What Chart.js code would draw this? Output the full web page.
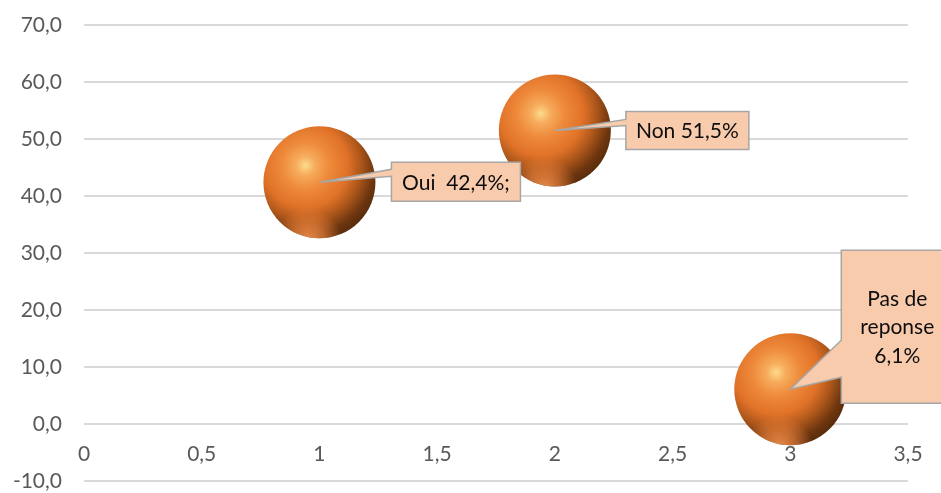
<!DOCTYPE html>
<html>
<head>
<meta charset="utf-8">
<script src="https://cdn.jsdelivr.net/npm/chart.js@4.4.1/dist/chart.umd.min.js"></script>
<style>
    body { margin: 0; background: #fff; }
</style>
</head>
<body>
<canvas id="graphique" width="941" height="493"></canvas>
<script>
// donnees du graphique
const categories = ['Oui', 'Non', 'Pas de reponse'];
const positionsX = [1, 2, 3];
const pourcentages = [42.4, 51.5, 6.1];
const etiquettes = [['Oui  42,4%;'], ['Non 51,5%'], ['Pas de', 'reponse', '6,1%']];
const ticksY = [-10, 0, 10, 20, 30, 40, 50, 60, 70];
const ticksX = [0, 0.5, 1, 1.5, 2, 2.5, 3, 3.5];

// styles
const RAYON = 56;
const POLICE = 'Lato, "Open Sans", sans-serif';
// position des bulles d'etiquette par rapport au point (en pixels)
const bulles = [
    { dx: 72, dy: -20, w: 129, h: 39, b1: 7, b2: 14 },
    { dx: 71, dy: -19, w: 123, h: 38, b1: 8, b2: 14 },
    { dx: 51, dy: -139, w: 112, h: 153, b1: 90, b2: 127 },
];

const virgule = (v, dec) => (dec ? v.toFixed(dec) : String(v)).replace('.', ',');

// degrade "sphere" pour chaque bulle
function degradeSphere(context) {
    if (context.type !== 'data') return '#ED7D31';
    const chart = context.chart;
    const cx = chart.scales.x.getPixelForValue(context.raw.x);
    const cy = chart.scales.y.getPixelForValue(context.raw.y);
    if (!isFinite(cx) || !isFinite(cy)) return '#ED7D31';
    const r = RAYON;
    const g = chart.ctx.createRadialGradient(cx - 0.25 * r, cy - 0.3 * r, 0, cx - 0.25 * r, cy - 0.3 * r, 1.45 * r);
    g.addColorStop(0, '#FDDA8C');
    g.addColorStop(0.12, '#F6AC5C');
    g.addColorStop(0.3, '#EE893A');
    g.addColorStop(0.52, '#E07228');
    g.addColorStop(0.68, '#AE571B');
    g.addColorStop(0.85, '#6E360F');
    g.addColorStop(1, '#50280A');
    return g;
}

const pluginEtiquettes = {
    id: 'etiquettes',
    afterDatasetsDraw(chart) {
        const ctx = chart.ctx;
        const meta = chart.getDatasetMeta(0);
        // reflet en bas des spheres
        meta.data.forEach((el) => {
            const r = RAYON;
            ctx.save();
            ctx.beginPath();
            ctx.arc(el.x, el.y, r, 0, Math.PI * 2);
            ctx.clip();
            const g = ctx.createRadialGradient(el.x - 0.2 * r, el.y + 1.05 * r, 0, el.x - 0.2 * r, el.y + 1.05 * r, 0.6 * r);
            g.addColorStop(0, 'rgba(246,150,80,0.95)');
            g.addColorStop(0.5, 'rgba(240,135,65,0.6)');
            g.addColorStop(1, 'rgba(240,135,65,0)');
            ctx.fillStyle = g;
            ctx.fillRect(el.x - r, el.y, 2 * r, r);
            ctx.restore();
        });
        // bulles d'etiquette
        meta.data.forEach((el, i) => {
            const b = bulles[i];
            const L = el.x + b.dx, T = el.y + b.dy, R = L + b.w, B = T + b.h;
            ctx.save();
            ctx.beginPath();
            ctx.moveTo(L, T);
            ctx.lineTo(R, T);
            ctx.lineTo(R, B);
            ctx.lineTo(L, B);
            ctx.lineTo(L, T + b.b2);
            ctx.lineTo(el.x, el.y);
            ctx.lineTo(L, T + b.b1);
            ctx.closePath();
            ctx.fillStyle = '#F8CBAD';
            ctx.fill();
            ctx.lineWidth = 1.5;
            ctx.strokeStyle = '#A6A6A6';
            ctx.stroke();
            ctx.fillStyle = '#0D0D0D';
            ctx.font = '21px ' + POLICE;
            ctx.textAlign = 'center';
            ctx.textBaseline = 'middle';
            const lignes = etiquettes[i];
            const lh = 28.5;
            const y0 = (T + B) / 2 - (lignes.length - 1) * lh / 2;
            lignes.forEach((t, k) => ctx.fillText(t, (L + R) / 2, y0 + k * lh + 1));
            ctx.restore();
        });
    }
};

new Chart(document.getElementById('graphique'), {
    type: 'bubble',
    data: {
        datasets: [{
            label: 'Reponses',
            data: positionsX.map((x, i) => ({ x: x, y: pourcentages[i], nom: categories[i] })),
            radius: RAYON,
            backgroundColor: degradeSphere,
            borderWidth: 0,
        }],
    },
    options: {
        responsive: false,
        animation: false,
        events: [],
        layout: { autoPadding: false, padding: { left: 0, right: 33, top: 25, bottom: 12 } },
        plugins: {
            legend: { display: false },
            tooltip: { enabled: false },
        },
        scales: {
            x: {
                type: 'linear',
                position: { y: 0 },
                min: ticksX[0],
                max: ticksX[ticksX.length - 1],
                afterFit: (scale) => {
                    scale.height = 0;
                    scale.paddingLeft = 0;
                    scale.paddingRight = 0;
                    scale.paddingTop = 0;
                    scale.paddingBottom = 0;
                },
                grid: { display: false },
                border: { display: false },
                ticks: {
                    stepSize: ticksX[1] - ticksX[0],
                    padding: 10,
                    color: '#595959',
                    font: { family: POLICE, size: 21 },
                    callback: (v) => virgule(v),
                },
            },
            y: {
                min: ticksY[0],
                max: ticksY[ticksY.length - 1],
                afterFit: (scale) => {
                    scale.width = 84;
                    scale.paddingTop = 0;
                    scale.paddingBottom = 0;
                },
                grid: { color: '#D9D9D9', lineWidth: 2, drawTicks: false },
                border: { display: false },
                ticks: {
                    stepSize: ticksY[1] - ticksY[0],
                    padding: 22,
                    color: '#595959',
                    font: { family: POLICE, size: 21 },
                    callback: (v) => virgule(v, 1),
                },
            },
        },
    },
    plugins: [pluginEtiquettes],
});
</script>
</body>
</html>
